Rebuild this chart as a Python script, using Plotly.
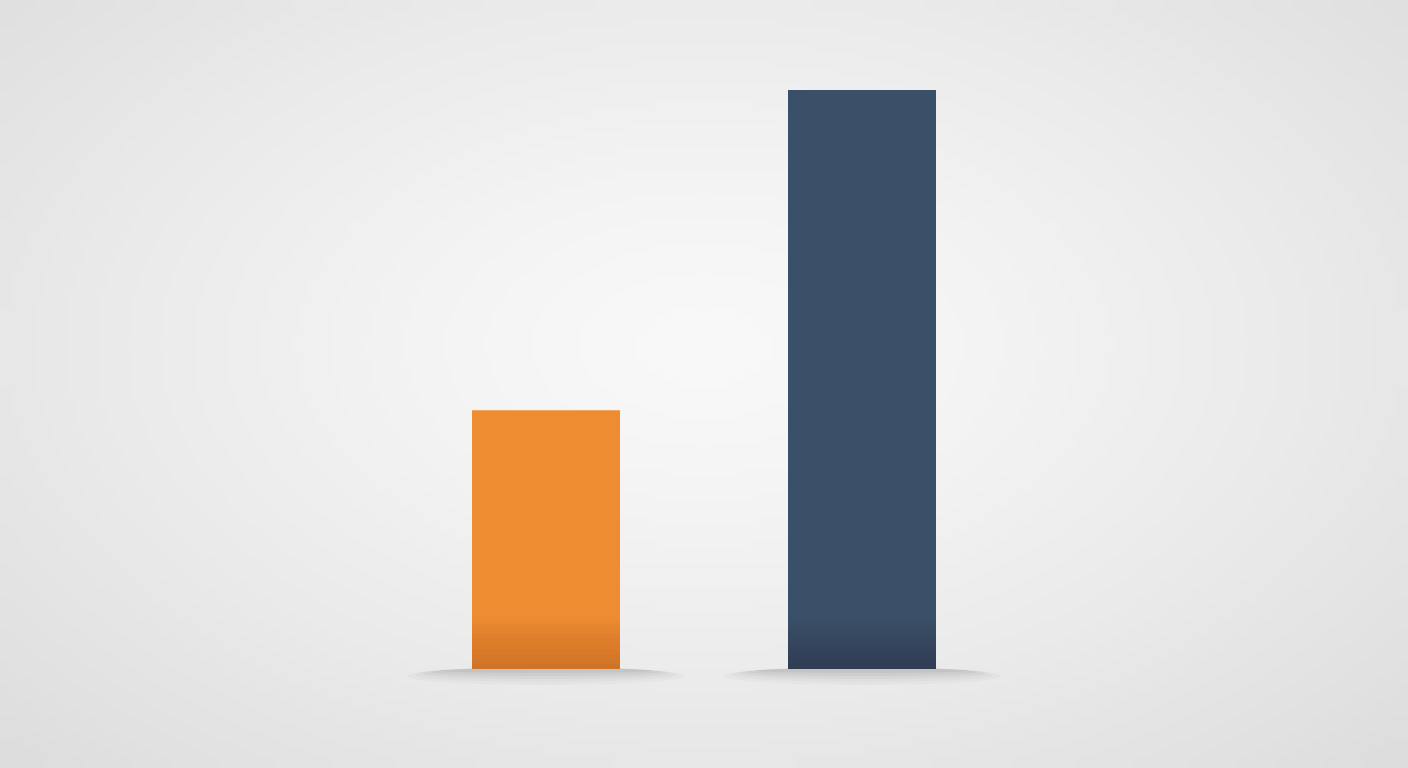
import base64
import struct
import zlib

import plotly.graph_objects as go

# Two bars, no labels in the picture
categories = ["A", "B"]
values = [44.7, 100]
colors = ["#ED8C30", "#3A5068"]

W, H = 1408, 768
BAR_FRAC = 148 / 316


def gradient_png(w=176, h=96):
    # soft radial grey gradient, bright in the middle
    rows = []
    for j in range(h):
        row = bytearray([0])
        for i in range(w):
            dx = (i + 0.5) / w - 0.5
            dy = (j + 0.5) / h - 0.45
            r = ((dx / 0.5) ** 2 + (dy / 0.55) ** 2) ** 0.5
            v = int(max(220, 249 - 18 * r ** 1.3))
            row += bytes([v, v, v])
        rows.append(bytes(row))
    raw = b"".join(rows)

    def chunk(tag, data):
        c = struct.pack(">I", len(data)) + tag + data
        return c + struct.pack(">I", zlib.crc32(tag + data) & 0xFFFFFFFF)

    png = b"\x89PNG\r\n\x1a\n"
    png += chunk(b"IHDR", struct.pack(">IIBBBBB", w, h, 8, 2, 0, 0, 0))
    png += chunk(b"IDAT", zlib.compress(raw, 9))
    png += chunk(b"IEND", b"")
    return "data:image/png;base64," + base64.b64encode(png).decode()


ml, mr, mt, mb = 388, 388, 90, 99
pw, ph = W - ml - mr, H - mt - mb

fig = go.Figure(go.Bar(
    x=categories, y=values, marker_color=colors, marker_line_width=0,
    width=BAR_FRAC, hoverinfo="skip",
))

# background gradient covering the whole page
fig.add_layout_image(
    source=gradient_png(), xref="paper", yref="paper",
    x=-ml / pw, y=1 + mt / ph, sizex=W / pw, sizey=H / ph,
    xanchor="left", yanchor="top", sizing="stretch", layer="below",
)

shade = ["rgba(60,25,0,0.016)", "rgba(0,5,15,0.016)"]
shapes = []
n = len(values)
for i, v in enumerate(values):
    cx = (i + 0.5) / n
    half = BAR_FRAC / 2 / n
    # soft floor shadow, widest and faintest first
    for k, op in enumerate([0.03, 0.04, 0.05, 0.06, 0.07]):
        spread = (0.44 - k * 0.025) / n
        shapes.append(dict(
            type="circle", xref="paper", yref="paper",
            x0=cx - spread, x1=cx + spread,
            y0=-(16 - k * 3) / ph, y1=(2 - k * 0.3) / ph,
            fillcolor=f"rgba(70,70,70,{op})", line_width=0, layer="below",
        ))
    # darker band toward the bar bottom
    for k in range(10):
        shapes.append(dict(
            type="rect", xref="paper", yref="paper",
            x0=cx - half, x1=cx + half,
            y0=0, y1=(50 - k * 5) / ph,
            fillcolor=shade[i], line_width=0, layer="above",
        ))

fig.update_layout(
    width=W, height=H,
    margin=dict(l=ml, r=mr, t=mt, b=mb),
    paper_bgcolor="#e8e8e8", plot_bgcolor="rgba(0,0,0,0)",
    shapes=shapes, showlegend=False,
    xaxis=dict(visible=False, range=[-0.5, 1.5]),
    yaxis=dict(visible=False, range=[0, 100]),
)

fig.write_html(
    "out.html",
    config={"displayModeBar": False},
    post_script="document.body.style.margin='0';",
)
